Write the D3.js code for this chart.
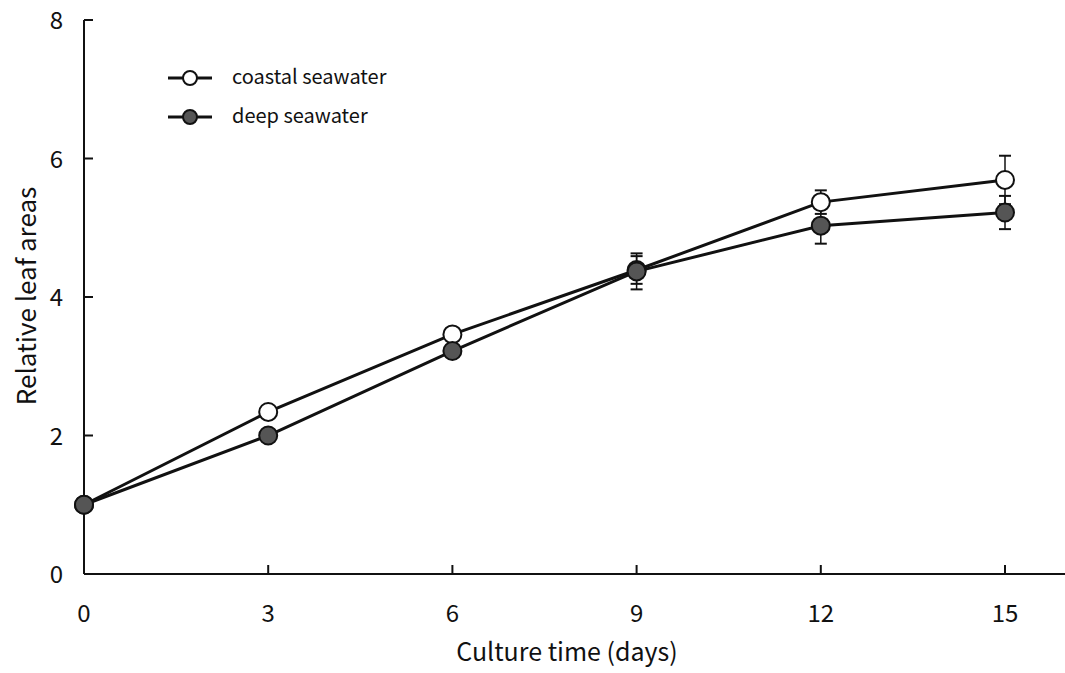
<!DOCTYPE html>
<html lang="en">
<head>
    <meta charset="UTF-8">
    <style>
        body { margin: 0; background: #fff; }
        text { font-family: "Noto Sans CJK JP", "DejaVu Sans", sans-serif; fill: #111; }
    </style>
    <script src="https://cdnjs.cloudflare.com/ajax/libs/d3/7.8.5/d3.min.js"></script>
    <title>Relative leaf areas</title>
</head>
<body>
    <div id="chart"></div>
    <script>
        var days = [0, 3, 6, 9, 12, 15];
        var coastal = [1.0, 2.34, 3.46, 4.39, 5.37, 5.69];
        var coastalErr = [0, 0, 0, 0.2, 0.17, 0.35];
        var deep = [1.0, 2.0, 3.22, 4.37, 5.03, 5.22];
        var deepErr = [0, 0, 0, 0.26, 0.26, 0.24];
        var xTicks = [0, 3, 6, 9, 12, 15];
        var yTicks = [0, 2, 4, 6, 8];

        var width = 1065, height = 673;
        var x = d3.scaleLinear().domain([0, 15]).range([84, 1005]);
        var y = d3.scaleLinear().domain([0, 8]).range([574, 20]);

        var svg = d3.select('#chart').append('svg')
            .attr('width', width)
            .attr('height', height);

        // axes
        svg.append('line')
            .attr('x1', 84).attr('x2', 1065)
            .attr('y1', y(0)).attr('y2', y(0))
            .attr('stroke', '#111').attr('stroke-width', 2);
        svg.append('line')
            .attr('x1', 84).attr('x2', 84)
            .attr('y1', y(0)).attr('y2', y(8))
            .attr('stroke', '#111').attr('stroke-width', 2);

        svg.selectAll('.xtick').data(xTicks).enter().append('line')
            .attr('x1', function (d) { return x(d); })
            .attr('x2', function (d) { return x(d); })
            .attr('y1', y(0)).attr('y2', y(0) - 9)
            .attr('stroke', '#111').attr('stroke-width', 2);
        svg.selectAll('.ytick').data(yTicks).enter().append('line')
            .attr('x1', 84).attr('x2', 93)
            .attr('y1', function (d) { return y(d); })
            .attr('y2', function (d) { return y(d); })
            .attr('stroke', '#111').attr('stroke-width', 2);

        svg.selectAll('.xlab').data(xTicks).enter().append('text')
            .attr('x', function (d) { return x(d); })
            .attr('y', 622)
            .attr('text-anchor', 'middle')
            .style('font-size', '24px')
            .text(function (d) { return d; });
        svg.selectAll('.ylab').data(yTicks).enter().append('text')
            .attr('x', 63)
            .attr('y', function (d) { return y(d) + 9; })
            .attr('text-anchor', 'end')
            .style('font-size', '24px')
            .text(function (d) { return d; });

        svg.append('text')
            .attr('x', 567).attr('y', 661)
            .attr('text-anchor', 'middle')
            .style('font-size', '25px')
            .text('Culture time (days)');
        svg.append('text')
            .attr('transform', 'translate(36, 296) rotate(-90)')
            .attr('text-anchor', 'middle')
            .style('font-size', '26px')
            .text('Relative leaf areas');

        var series = [
            { name: 'coastal seawater', values: coastal, err: coastalErr, fill: '#fff' },
            { name: 'deep seawater', values: deep, err: deepErr, fill: '#555' }
        ];

        var line = d3.line()
            .x(function (d, i) { return x(days[i]); })
            .y(function (d) { return y(d); });

        series.forEach(function (s) {
            svg.append('path')
                .attr('d', line(s.values))
                .attr('fill', 'none')
                .attr('stroke', '#111')
                .attr('stroke-width', 3);
        });

        // error bars
        series.forEach(function (s) {
            var g = svg.append('g');
            s.values.forEach(function (v, i) {
                if (!s.err[i]) return;
                var cx = x(days[i]);
                [v + s.err[i], v - s.err[i]].forEach(function (e) {
                    g.append('line')
                        .attr('x1', cx).attr('x2', cx)
                        .attr('y1', y(v)).attr('y2', y(e))
                        .attr('stroke', '#111').attr('stroke-width', 1.5);
                    g.append('line')
                        .attr('x1', cx - 6).attr('x2', cx + 6)
                        .attr('y1', y(e)).attr('y2', y(e))
                        .attr('stroke', '#111').attr('stroke-width', 2);
                });
            });
        });

        // markers (coastal first, deep on top)
        series.forEach(function (s) {
            svg.selectAll(null).data(s.values).enter().append('circle')
                .attr('cx', function (d, i) { return x(days[i]); })
                .attr('cy', function (d) { return y(d); })
                .attr('r', 9)
                .attr('fill', s.fill)
                .attr('stroke', '#111')
                .attr('stroke-width', 2);
        });

        // legend
        var legend = svg.append('g').attr('transform', 'translate(168, 78)');
        series.forEach(function (s, i) {
            var row = legend.append('g').attr('transform', 'translate(0,' + i * 39 + ')');
            row.append('line')
                .attr('x1', 0).attr('x2', 44)
                .attr('stroke', '#111').attr('stroke-width', 3);
            row.append('circle')
                .attr('cx', 22).attr('r', 7)
                .attr('fill', s.fill)
                .attr('stroke', '#111').attr('stroke-width', 2);
            row.append('text')
                .attr('x', 64).attr('y', 6)
                .style('font-size', '20px')
                .text(s.name);
        });
    </script>
</body>
</html>
